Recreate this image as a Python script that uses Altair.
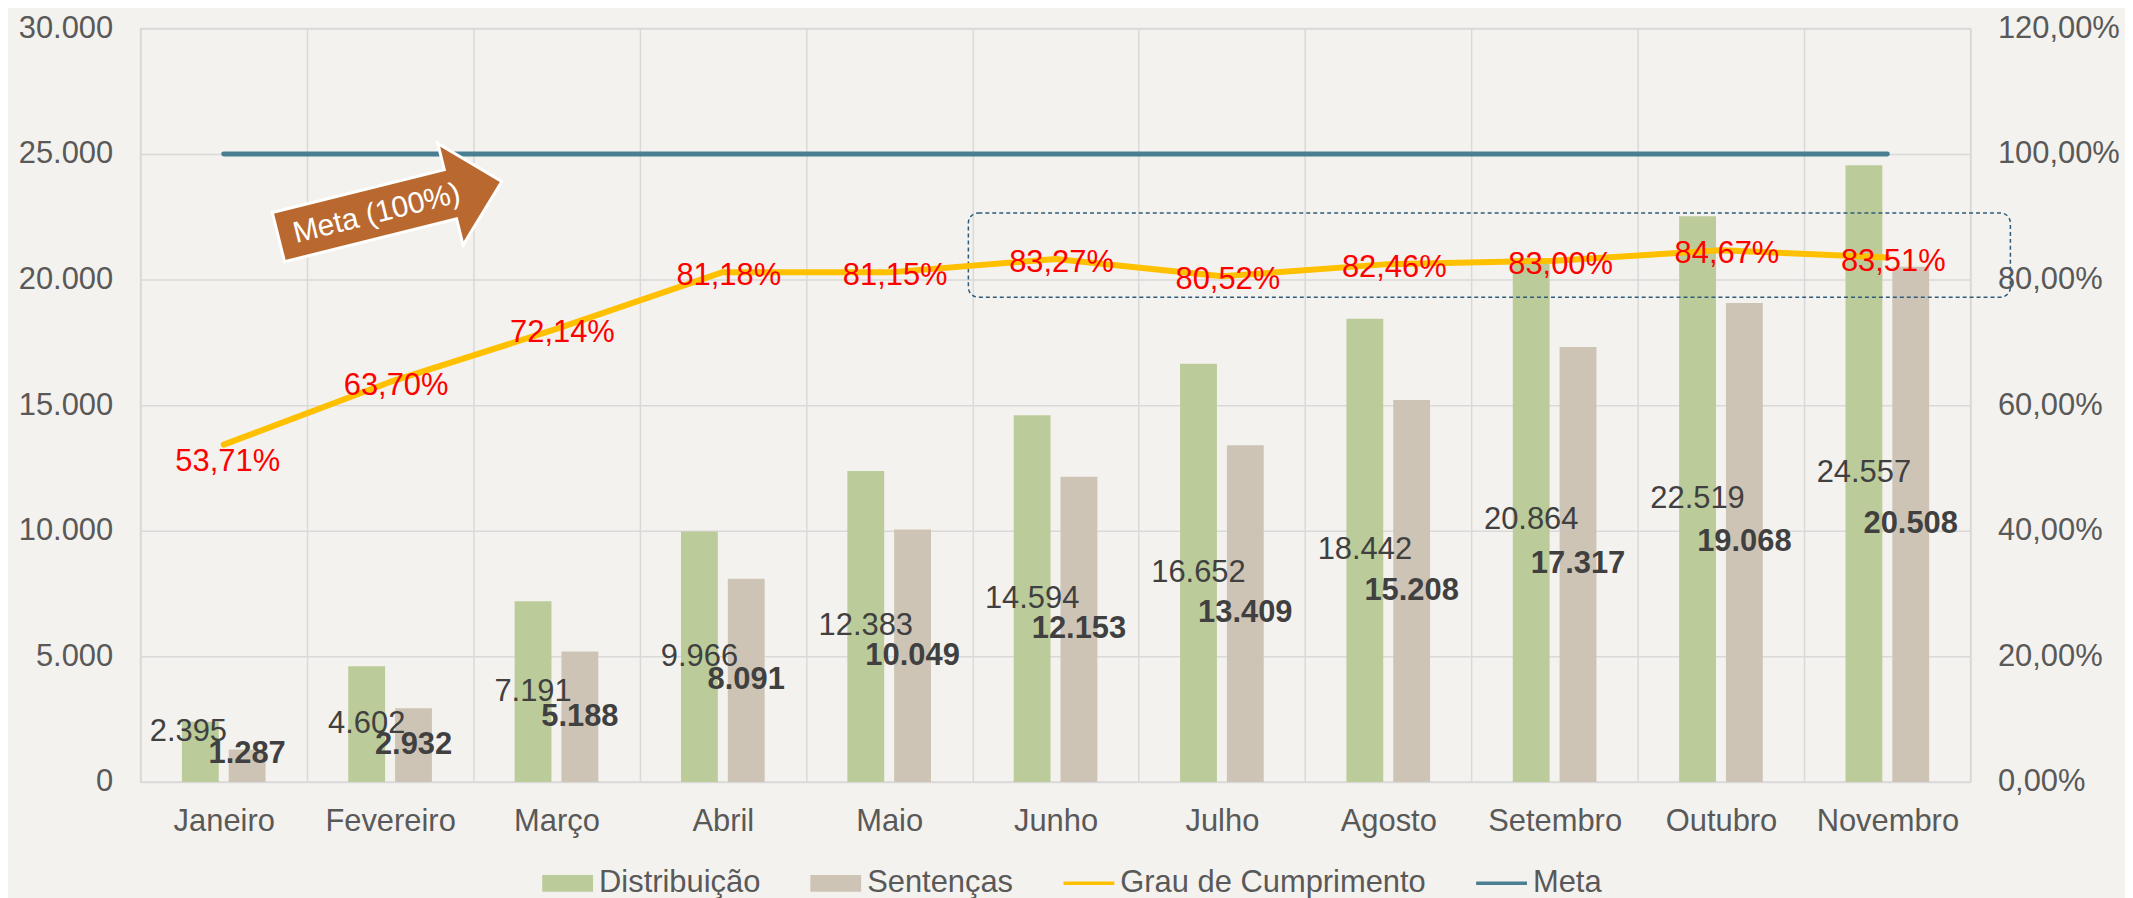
import altair as alt
import pandas as pd

meses = ["Janeiro", "Fevereiro", "Março", "Abril", "Maio", "Junho", "Julho",
         "Agosto", "Setembro", "Outubro", "Novembro"]
distribuicao = [2395, 4602, 7191, 9966, 12383, 14594, 16652, 18442, 20864, 22519, 24557]
sentencas = [1287, 2932, 5188, 8091, 10049, 12153, 13409, 15208, 17317, 19068, 20508]
grau = [0.5371, 0.6370, 0.7214, 0.8118, 0.8115, 0.8327, 0.8052, 0.8246, 0.8300, 0.8467, 0.8351]
meta = [1.0, 1.0, 1.0, 1.0, 1.0, 1.0, 1.0, 1.0, 1.0, 1.0, 1.0]

series = ["Distribuição", "Sentenças", "Grau de Cumprimento", "Meta"]
cores = ["#BBCC9A", "#CEC4B6", "#FFC000", "#4A7E91"]
eixo_esq = [0, 5000, 10000, 15000, 20000, 25000, 30000]
eixo_dir = [0, 0.2, 0.4, 0.6, 0.8, 1.0, 1.2]

FONT = "Liberation Sans"
GRID = "#D9D9D9"

barras_df = pd.DataFrame(
    [{"mes": m, "serie": "Distribuição", "valor": v} for m, v in zip(meses, distribuicao)]
    + [{"mes": m, "serie": "Sentenças", "valor": v} for m, v in zip(meses, sentencas)]
)
linha_df = pd.DataFrame({"mes": meses, "grau": grau, "meta": meta})
legenda_df = pd.DataFrame({"serie": series})
destaque_df = pd.DataFrame([{"ini": "Junho", "fim": "Novembro", "topo": 22650, "base": 19300}])
seta_df = pd.DataFrame([{"mes": "Fevereiro", "pos": 0.912}])

x_scale = alt.Scale(domain=meses, paddingInner=0, paddingOuter=0)
xoff = alt.XOffset("serie:N", sort=["Distribuição", "Sentenças"],
                   scale=alt.Scale(domain=["Distribuição", "Sentenças"],
                                   paddingInner=0.2128, paddingOuter=0.883))
x_axis = alt.Axis(title=None, labelAngle=0, ticks=False, domain=False, grid=True,
                  gridColor=GRID, gridWidth=1.5, tickBand="extent", labelPadding=25)
y_left = alt.Scale(domain=[0, 30000])
y_right = alt.Scale(domain=[0, 1.2])


def X(field):
    return alt.X(field, sort=meses, scale=x_scale, axis=x_axis)


color_scale = alt.Scale(domain=series, range=cores)
sq = "M-1,-0.33L1,-0.33L1,0.33L-1,0.33Z"
ln = "M-1,-0.07L1,-0.07L1,0.07L-1,0.07Z"
shape_scale = alt.Scale(domain=series, range=[sq, sq, ln, ln])

leg = alt.Legend(title=None, orient="none", legendX=403, legendY=832,
                 direction="horizontal",
                 labelFont=FONT, labelFontSize=31, labelColor="#595959",
                 symbolSize=2601, symbolStrokeWidth=0, columnPadding=50,
                 labelOffset=6, labelLimit=1000)

legenda = alt.Chart(legenda_df).mark_point(filled=True, size=0, opacity=1).encode(
    color=alt.Color("serie:N", scale=color_scale, legend=leg),
    shape=alt.Shape("serie:N", scale=shape_scale, legend=leg),
)

bars = alt.Chart(barras_df).mark_bar().encode(
    x=X("mes:N"),
    xOffset=xoff,
    y=alt.Y("valor:Q", scale=y_left,
            axis=alt.Axis(title=None, values=eixo_esq, format=",d", grid=True,
                          gridColor=GRID, gridWidth=1.5, domain=False, ticks=False,
                          labelPadding=28, orient="left")),
    color=alt.Color("serie:N", scale=color_scale, legend=None),
)


def bar_labels(serie, weight, primeiro, dx, dy):
    cond = "datum.mes == 'Janeiro'" if primeiro else "datum.mes != 'Janeiro'"
    return alt.Chart(barras_df).transform_filter(
        alt.datum.serie == serie
    ).transform_filter(cond).transform_calculate(meio="datum.valor / 2").mark_text(
        font=FONT, fontSize=31, fontWeight=weight, color="#404040", dx=dx, dy=dy
    ).encode(
        x=X("mes:N"),
        xOffset=xoff,
        y=alt.Y("meio:Q", scale=y_left, axis=None),
        text=alt.Text("valor:Q", format=",d"),
    )


lab_dist = bar_labels("Distribuição", "normal", False, 0, 0)
lab_sent = bar_labels("Sentenças", "bold", False, 0, 0)
lab_dist1 = bar_labels("Distribuição", "normal", True, -12, -20)
lab_sent1 = bar_labels("Sentenças", "bold", True, 0, -12)

destaque = alt.Chart(destaque_df).mark_rect(
    cornerRadius=10, fillOpacity=0, stroke="#2E5C7A", strokeDash=[4, 3],
    strokeWidth=1.5, xOffset=-4, x2Offset=40
).encode(
    x=alt.X("ini:N", sort=meses, scale=x_scale, axis=x_axis, bandPosition=0),
    x2=alt.X2("fim:N", bandPosition=1),
    y=alt.Y("topo:Q", scale=y_left, axis=None),
    y2="base:Q",
)

grau_line = alt.Chart(linha_df).mark_line(
    color="#FFC000", strokeWidth=6, strokeJoin="round", strokeCap="round"
).encode(
    x=X("mes:N"),
    y=alt.Y("grau:Q", scale=y_right,
            axis=alt.Axis(title=None, orient="right", values=eixo_dir, format=".2%",
                          grid=False, domain=False, ticks=False, labelPadding=27)),
)

meta_line = alt.Chart(linha_df).mark_line(
    color="#4A7E91", strokeWidth=5, strokeCap="round"
).encode(
    x=X("mes:N"),
    y=alt.Y("meta:Q", scale=y_right, axis=None),
)

pct = alt.Chart(linha_df).transform_filter("datum.mes != 'Janeiro'").mark_text(
    font=FONT, fontSize=31, color="#FF0000", dx=6, dy=4
).encode(
    x=X("mes:N"),
    y=alt.Y("grau:Q", scale=y_right, axis=None),
    text=alt.Text("grau:Q", format=".2%"),
)
pct_first = alt.Chart(linha_df).transform_filter("datum.mes == 'Janeiro'").mark_text(
    font=FONT, fontSize=31, color="#FF0000", dx=4, dy=17
).encode(
    x=X("mes:N"),
    y=alt.Y("grau:Q", scale=y_right, axis=None),
    text=alt.Text("grau:Q", format=".2%"),
)

arrow_path = "M-1,-0.22L0.54,-0.22L0.54,-0.455L1,0L0.54,0.455L0.54,0.22L-1,0.22Z"
seta = alt.Chart(seta_df).mark_point(
    shape=arrow_path, size=53361, angle=346, filled=True, fill="#B9692F",
    stroke="white", strokeWidth=3, opacity=1
).encode(
    x=X("mes:N"),
    y=alt.Y("pos:Q", scale=y_right, axis=None),
)
seta_txt = alt.Chart(seta_df).mark_text(
    text="Meta (100%)", angle=346, font=FONT, fontSize=30, color="white", dx=-14, dy=1
).encode(
    x=X("mes:N"),
    y=alt.Y("pos:Q", scale=y_right, axis=None),
)

chart = alt.layer(
    legenda, bars, destaque, lab_dist, lab_sent, lab_dist1, lab_sent1,
    grau_line, meta_line, seta, seta_txt, pct, pct_first
).resolve_scale(y="independent").properties(
    width=1836, height=756,
    padding={"left": 10, "top": 3, "right": 5, "bottom": 5},
    background="#F4F2EE",
).configure(
    locale={"number": {"decimal": ",", "thousands": ".", "grouping": [3],
                       "currency": ["R$", ""]}},
    view=alt.ViewConfig(stroke=GRID, strokeWidth=1.5),
    axis=alt.AxisConfig(labelFont=FONT, labelFontSize=31, labelColor="#595959"),
)

chart.save("out.html", embed_options={"renderer": "svg", "actions": False})
